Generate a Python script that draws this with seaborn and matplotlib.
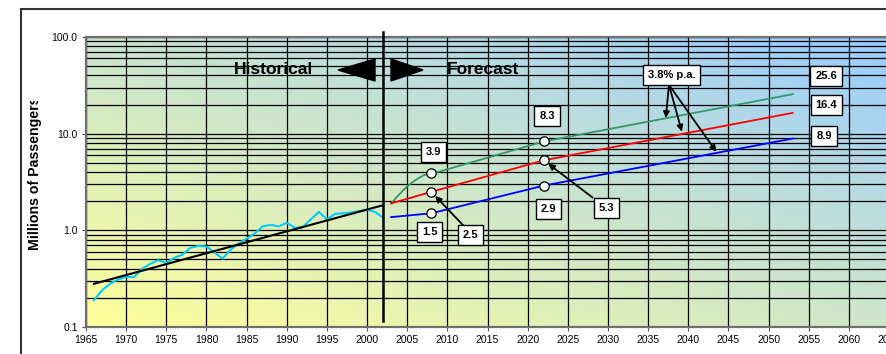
import numpy as np
import matplotlib
matplotlib.use("Agg")
import matplotlib.pyplot as plt
import seaborn as sns
from matplotlib.ticker import MultipleLocator, LogLocator, FixedLocator, NullFormatter
from matplotlib.patches import Polygon, Rectangle
from matplotlib.transforms import Bbox, TransformedBbox

# historical passengers (millions)
hist_years = list(range(1966, 2003))
hist_vals = [0.19, 0.24, 0.28, 0.31, 0.33, 0.33, 0.40, 0.45, 0.49, 0.46,
             0.52, 0.56, 0.66, 0.69, 0.68, 0.59, 0.51, 0.63, 0.73, 0.82,
             0.93, 1.10, 1.14, 1.10, 1.20, 1.06, 1.08, 1.30, 1.55, 1.30,
             1.48, 1.50, 1.53, 1.58, 1.63, 1.55, 1.35]

# historical trend
trend_years = [1966, 2002]
trend_vals = [0.28, 1.82]

# forecast scenarios
high_years = [2003, 2004, 2005, 2006, 2007, 2008, 2009, 2022, 2053]
high_vals = [1.9, 2.35, 2.85, 3.3, 3.7, 3.9, 4.05, 8.3, 25.6]
mid_years = [2003, 2008, 2022, 2053]
mid_vals = [1.9, 2.5, 5.3, 16.4]
low_years = [2003, 2008, 2022, 2053]
low_vals = [1.37, 1.5, 2.9, 8.9]

marker_years = [2008, 2008, 2008, 2022, 2022, 2022]
marker_vals = [3.9, 2.5, 1.5, 8.3, 5.3, 2.9]

plt.rcParams['font.family'] = ['Liberation Sans', 'DejaVu Sans']

W, H = 886, 354
fig = plt.figure(figsize=(W / 100, H / 100), dpi=100)
fig.patch.set_facecolor('white')
ax_w = 105 * 8.03
ax = fig.add_axes([86 / W, 27 / H, ax_w / W, 290 / H])
ax.set_yscale('log')

# gradient background, yellow bottom-left to blue top-right
u = np.linspace(0, 1, 400)
v = np.linspace(0, 1, 200)
U, V = np.meshgrid(u, v)
t = np.clip((U * 0.95 + V) / 1.9, 0, 1)
c0 = np.array([255, 255, 153]) / 255
c1 = np.array([153, 204, 255]) / 255
img = c0 + (c1 - c0) * t[..., None]
ax.imshow(img, extent=[0, 1, 0, 1], transform=ax.transAxes, origin='lower',
          aspect='auto', zorder=0)

ax.set_xlim(1965, 2070)
ax.set_ylim(0.1, 100)

ax.set_xticks(range(1965, 2066, 5))
ax.yaxis.set_major_locator(FixedLocator([0.1, 1, 10, 100]))
ax.yaxis.set_minor_locator(LogLocator(base=10, subs=np.arange(2, 10)))
ax.yaxis.set_minor_formatter(NullFormatter())
ax.set_yticklabels(['0.1', '1.0', '10.0', '100.0'])
ax.set_axisbelow(True)
ax.grid(which='major', axis='x', color='black', lw=0.9)
ax.grid(which='both', axis='y', color='black', lw=0.9)
ax.tick_params(axis='both', which='major', labelsize=7.5, length=3,
               color='#555555', pad=3)
ax.tick_params(axis='y', which='minor', length=0)

for s in ['left', 'bottom', 'top']:
    ax.spines[s].set_color('#707070')
    ax.spines[s].set_linewidth(1.6)
ax.spines['right'].set_visible(False)

sns.lineplot(x=hist_years, y=hist_vals, color='#00CCFF', lw=1.5, ax=ax, zorder=3)
sns.lineplot(x=trend_years, y=trend_vals, color='black', lw=1.5, ax=ax, zorder=3)
sns.lineplot(x=high_years, y=high_vals, color='#339966', lw=1.3, ax=ax, zorder=3)
sns.lineplot(x=mid_years, y=mid_vals, color='#FF0000', lw=1.3, ax=ax, zorder=3)
sns.lineplot(x=low_years, y=low_vals, color='#0000FF', lw=1.3, ax=ax, zorder=3)
sns.scatterplot(x=marker_years, y=marker_vals, color='white', edgecolor='black',
                linewidth=0.9, s=45, ax=ax, zorder=5)

# historical / forecast divider
ax.plot([2002, 2002], [0.114, 113], color='black', lw=1.8, clip_on=False, zorder=4)
ax.text(1988.3, 46, 'Historical', fontsize=12.5, fontweight='bold',
        ha='center', va='center', zorder=6)
ax.text(2014.4, 46, 'Forecast', fontsize=12.5, fontweight='bold',
        ha='center', va='center', zorder=6)
tri_l = [[(338 - 86) / ax_w, (327 - 70) / 290], [(375 - 86) / ax_w, (327 - 59) / 290],
         [(375 - 86) / ax_w, (327 - 81) / 290]]
tri_r = [[(391 - 86) / ax_w, (327 - 59) / 290], [(391 - 86) / ax_w, (327 - 81) / 290],
         [(423 - 86) / ax_w, (327 - 70) / 290]]
for tri in (tri_l, tri_r):
    ax.add_patch(Polygon(tri, closed=True, color='black', transform=ax.transAxes, zorder=6))

box = dict(boxstyle='square,pad=0.45', fc='white', ec='black', lw=1)
arrow = dict(arrowstyle='-|>', color='black', lw=1.3, mutation_scale=9,
             shrinkA=0, shrinkB=4)
lab_kw = dict(fontsize=8, fontweight='bold', ha='center', va='center', bbox=box, zorder=8)

ax.text(2008.3, 6.5, '3.9', **lab_kw)
ax.text(2007.8, 0.95, '1.5', **lab_kw)
ax.text(2022.4, 15.3, '8.3', **lab_kw)
ax.text(2022.6, 1.68, '2.9', **lab_kw)
ax.annotate('', xy=(2008, 2.5), xytext=(2012, 1.12), arrowprops=arrow, zorder=7)
ax.text(2012.9, 0.90, '2.5', **lab_kw)
ax.annotate('', xy=(2022, 5.3), xytext=(2028.1, 2.18), arrowprops=arrow, zorder=7)
ax.text(2029.8, 1.70, '5.3', **lab_kw)

arrow2 = dict(arrow, shrinkB=0)
for x_tip, y_tip in [(2037.2, 14.5), (2039.2, 10.5), (2043.5, 6.5)]:
    ax.annotate('', xy=(x_tip, y_tip), xytext=(2037.6, 32), arrowprops=arrow2, zorder=7)
ax.text(2037.9, 40, '3.8% p.a.', **lab_kw)

ax.text(2057.2, 39.3, '25.6', **lab_kw)
ax.text(2057.2, 19.6, '16.4', **lab_kw)
ax.text(2056.9, 9.4, '8.9', **lab_kw)

# y label is clipped at the top in the original chart
ylab = ax.set_ylabel('Millions of Passengers', fontsize=10.2, fontweight='bold')
ax.yaxis.set_label_coords((42 - 86) / ax_w, (327 - 173) / 290)
ylab.set_clip_box(TransformedBbox(Bbox([[0, 0], [1, 1 - 101 / H]]), fig.transFigure))
ylab.set_clip_on(True)

# outer chart frame
fig.add_artist(Rectangle((21 / W, -0.1), 2, 1.1 - 9.5 / H, transform=fig.transFigure,
                         fill=False, ec='#333333', lw=1.5))

fig.savefig('out.png', dpi=100)
